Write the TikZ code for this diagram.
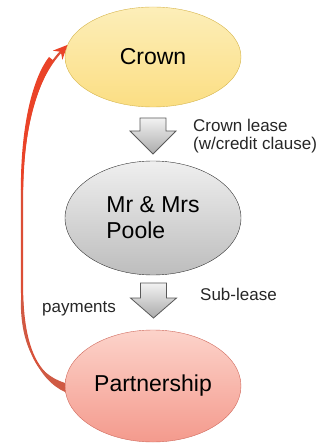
\documentclass[tikz,border=0pt]{standalone}
\usepackage{fontspec}
\setmainfont{Liberation Sans}
\usetikzlibrary{shapes.geometric,arrows.meta,positioning}
\definecolor{crownfill}{HTML}{FBE38A}
\definecolor{crownline}{HTML}{D6B54C}
\definecolor{pooletop}{HTML}{EFEFEF}
\definecolor{poolebot}{HTML}{BDBDBD}
\definecolor{parttop}{HTML}{FCD3CA}
\definecolor{partbot}{HTML}{F49A8D}
\definecolor{partline}{HTML}{D0695C}
\definecolor{payred}{HTML}{DC4E36}
\definecolor{payhigh}{HTML}{EA4328}
\definecolor{paylow}{HTML}{CF5A44}

% block arrow pointing down: x, top, start of head, tip
\newcommand{\leasearrow}[4]{%
	\path[blockarrow] (#1-13,#2) -- (#1+13,#2) -- (#1+13,#3) -- (#1+23,#3)
		-- (#1,#4) -- (#1-23,#3) -- (#1-13,#3) -- cycle;}

\begin{document}
\begin{tikzpicture}
		[   x=1pt,y=-1pt,
			party/.style={draw,ellipse,minimum width=176pt,minimum height=#1,inner sep=0pt,
				font=\fontsize{23}{26}\selectfont},
			lbl/.style={anchor=base west,inner sep=0pt,font=\fontsize{17}{19}\selectfont,text=black!85},
		]
		\tikzset{blockarrow/.style={draw=black!65,line width=0.8pt,top color=white!95!black,bottom color=black!33}}
		\tikzset{payarrow/.style={draw=payred,line width=2.2pt,-{Stealth[length=14pt,width=13pt,color=payhigh]}}}
		\useasboundingbox (0,0) rectangle (328,443);
		
		\node[party=100pt,draw=crownline,top color=crownfill!60,bottom color=crownfill!95!orange] (crown) at (153,57) {Crown};
		
		\node[party=114pt,draw=black!80,top color=pooletop,bottom color=poolebot,align=left] (poole) at (153,218) {Mr \& Mrs\\Poole};
		
		\node[party=112pt,draw=partline,top color=parttop,bottom color=partbot] (part) at (153,386) {Partnership};
		
		\leasearrow{153}{118}{131}{154}
		\leasearrow{153.5}{283}{298}{318}
		
		\node[lbl] (lease) at (193,132) {Crown lease};
		\node[lbl] (clause) at (193,150) {(w/credit clause)};
		\node[lbl] (sub) at (200,300) {Sub-lease};
		\node[lbl] (pay) at (42,312) {payments};
		
		% payments back to the crown
		\draw[payarrow] (part.west) .. controls (36,376) and (22,345) .. (22,285)
			-- (22,200) .. controls (22,125) and (36,78) .. (crown.172);
		\fill[paylow] (part.178) .. controls (36,374) and (20.5,345) .. (20.8,300)
			-- (23.2,300) .. controls (23.5,345) and (38,380) .. (part.184) -- cycle;
		\fill[payhigh] (20.9,190) .. controls (20.6,122) and (34,76) .. (49,57)
			-- (54,61) .. controls (39,82) and (23.4,126) .. (23.1,190) -- cycle;
\end{tikzpicture}
\end{document}
